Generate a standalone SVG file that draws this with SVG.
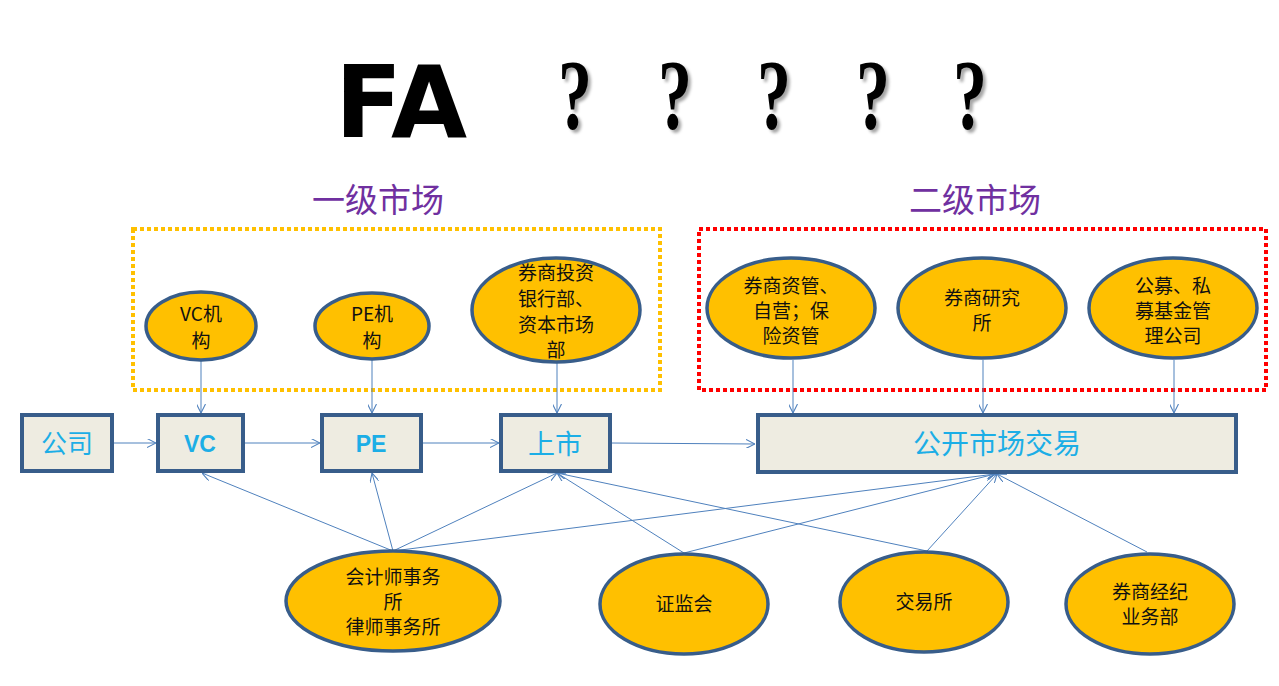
<svg xmlns="http://www.w3.org/2000/svg" width="1279" height="686" viewBox="0 0 1279 686">
  <defs>
    <style>
      .box { fill: #EEECE1; stroke: #385D8A; stroke-width: 4; }
      .ell { fill: #FFC000; stroke: #385D8A; stroke-width: 3.5; }
      .btxt { font-family: "Liberation Sans", "Noto Sans CJK SC", sans-serif; fill: #1CAEE6; text-anchor: middle; }
      .etxt { font-family: "Noto Sans CJK SC", sans-serif; font-size: 19px; fill: #111; text-anchor: middle; }
      .title { font-family: "Noto Sans CJK SC", sans-serif; font-size: 33px; fill: #7030A0; text-anchor: middle; }
      .q { font-family: "Liberation Serif", serif; font-weight: bold; font-size: 100px; fill: #000; text-anchor: middle; }
      .conn line { stroke: #4F81BD; stroke-width: 1; marker-end: url(#arr); }
    </style>
    <marker id="arr" viewBox="0 0 10 10" refX="10" refY="5" markerWidth="9" markerHeight="9" markerUnits="userSpaceOnUse" orient="auto">
      <path d="M0,0 L10,5 L0,10" fill="none" stroke="#4F81BD" stroke-width="1.2"/>
    </marker>
    <filter id="sh" x="-30%" y="-30%" width="160%" height="160%">
      <feDropShadow dx="3" dy="3" stdDeviation="1.5" flood-color="#000" flood-opacity="0.35"/>
    </filter>
  </defs>
  <rect width="1279" height="686" fill="#fff"/>

  <g id="heading">
    <text x="401" y="137" font-family="DejaVu Sans" font-weight="bold" font-size="100" textLength="132" lengthAdjust="spacingAndGlyphs" text-anchor="middle" fill="#000">FA</text>
    <g filter="url(#sh)">
      <text class="q" x="575" y="128" textLength="34" lengthAdjust="spacingAndGlyphs">?</text>
      <text class="q" x="675" y="128" textLength="34" lengthAdjust="spacingAndGlyphs">?</text>
      <text class="q" x="774" y="128" textLength="34" lengthAdjust="spacingAndGlyphs">?</text>
      <text class="q" x="873" y="128" textLength="34" lengthAdjust="spacingAndGlyphs">?</text>
      <text class="q" x="970" y="128" textLength="34" lengthAdjust="spacingAndGlyphs">?</text>
    </g>
  </g>

  <g id="primary-market">
    <text class="title" x="378" y="212">一级市场</text>
    <rect x="133" y="229" width="527" height="161" fill="none" stroke="#FFC000" stroke-width="4" stroke-dasharray="4 3"/>
  </g>
  <g id="secondary-market">
    <text class="title" x="975" y="212">二级市场</text>
    <rect x="699" y="229" width="567" height="161" fill="none" stroke="#FF0000" stroke-width="4" stroke-dasharray="4 3"/>
  </g>

  <g class="conn" id="connectors">
    <line x1="201" y1="360" x2="201" y2="413"/>
    <line x1="372" y1="359" x2="372" y2="413"/>
    <line x1="557" y1="362" x2="557" y2="413"/>
    <line x1="793" y1="360" x2="793" y2="413"/>
    <line x1="983" y1="360" x2="983" y2="413"/>
    <line x1="1174" y1="360" x2="1174" y2="413"/>
    <line x1="112" y1="443" x2="156" y2="443"/>
    <line x1="243" y1="443" x2="320" y2="443"/>
    <line x1="421" y1="443" x2="499" y2="443"/>
    <line x1="611" y1="443" x2="755" y2="444"/>
    <line x1="393" y1="551" x2="202" y2="473"/>
    <line x1="393" y1="551" x2="372" y2="473"/>
    <line x1="393" y1="551" x2="557" y2="473"/>
    <line x1="393" y1="551" x2="995" y2="474"/>
    <line x1="684" y1="553" x2="557" y2="473"/>
    <line x1="684" y1="553" x2="995" y2="474"/>
    <line x1="927" y1="551" x2="557" y2="473"/>
    <line x1="927" y1="551" x2="997" y2="474"/>
    <line x1="1147" y1="552" x2="997" y2="474"/>
  </g>

  <g id="n-company"><rect class="box" x="22" y="415" width="90" height="56"/><text class="btxt" x="67" y="453" font-size="26">公司</text></g>
  <g id="n-vc"><rect class="box" x="158" y="415" width="85" height="56"/><text class="btxt" x="200" y="452" font-size="23" font-weight="bold">VC</text></g>
  <g id="n-pe"><rect class="box" x="322" y="415" width="99" height="56"/><text class="btxt" x="371" y="452" font-size="23" font-weight="bold">PE</text></g>
  <g id="n-ipo"><rect class="box" x="501" y="415" width="109" height="56"/><text class="btxt" x="555" y="454" font-size="27">上市</text></g>
  <g id="n-public"><rect class="box" x="758" y="415" width="478" height="57"/><text class="btxt" x="997" y="454" font-size="28">公开市场交易</text></g>

  <g id="n-vcorg"><ellipse class="ell" cx="201" cy="326" rx="55" ry="34"/><text class="etxt" x="201" y="321">VC机</text><text class="etxt" x="201" y="348">构</text></g>
  <g id="n-peorg"><ellipse class="ell" cx="372" cy="326" rx="57" ry="33"/><text class="etxt" x="372" y="321">PE机</text><text class="etxt" x="372" y="348">构</text></g>
  <g id="n-ib"><ellipse class="ell" cx="556" cy="310" rx="84" ry="52"/>
    <text class="etxt" x="556" y="280">券商投资</text><text class="etxt" x="556" y="306">银行部、</text><text class="etxt" x="556" y="332">资本市场</text><text class="etxt" x="556" y="357">部</text></g>
  <g id="n-am"><ellipse class="ell" cx="791" cy="308" rx="84" ry="50"/>
    <text class="etxt" x="791" y="293">券商资管、</text><text class="etxt" x="791" y="318">自营；保</text><text class="etxt" x="791" y="343">险资管</text></g>
  <g id="n-research"><ellipse class="ell" cx="982" cy="308" rx="84" ry="50"/>
    <text class="etxt" x="982" y="305">券商研究</text><text class="etxt" x="982" y="330">所</text></g>
  <g id="n-fund"><ellipse class="ell" cx="1173" cy="308" rx="84" ry="50"/>
    <text class="etxt" x="1173" y="293">公募、私</text><text class="etxt" x="1173" y="318">募基金管</text><text class="etxt" x="1173" y="343">理公司</text></g>

  <g id="n-law"><ellipse class="ell" cx="393" cy="601" rx="107" ry="50"/>
    <text class="etxt" x="393" y="584">会计师事务</text><text class="etxt" x="393" y="609">所</text><text class="etxt" x="393" y="634">律师事务所</text></g>
  <g id="n-csrc"><ellipse class="ell" cx="684" cy="604" rx="84" ry="50"/>
    <text class="etxt" x="684" y="611">证监会</text></g>
  <g id="n-exchange"><ellipse class="ell" cx="924" cy="602" rx="84" ry="50"/>
    <text class="etxt" x="924" y="609">交易所</text></g>
  <g id="n-broker"><ellipse class="ell" cx="1150" cy="604" rx="84" ry="50"/>
    <text class="etxt" x="1150" y="599">券商经纪</text><text class="etxt" x="1150" y="624">业务部</text></g>
</svg>
